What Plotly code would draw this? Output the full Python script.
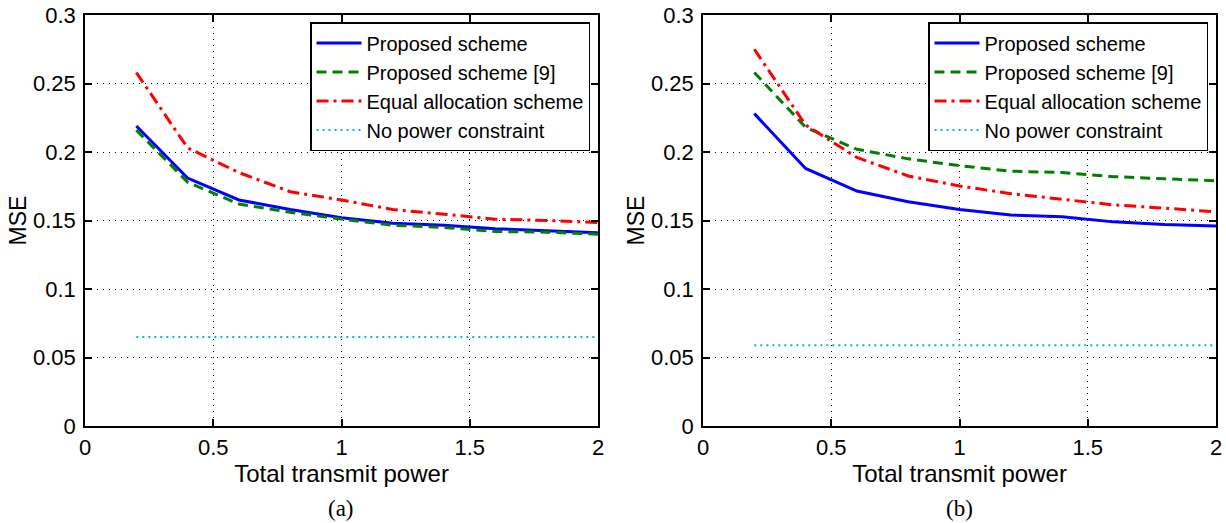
import plotly.graph_objects as go

power = [0.2, 0.4, 0.6, 0.8, 1.0, 1.2, 1.4, 1.6, 1.8, 2.0]

# Panel (a)
a_proposed = [0.219, 0.181, 0.165, 0.158, 0.152, 0.148, 0.1465, 0.144, 0.1425, 0.141]
a_proposed9 = [0.216, 0.178, 0.162, 0.156, 0.151, 0.1465, 0.145, 0.142, 0.1415, 0.140]
a_equal = [0.258, 0.203, 0.185, 0.171, 0.165, 0.158, 0.1546, 0.151, 0.150, 0.1485]
a_nopower = [0.065] * len(power)

# Panel (b)
b_proposed = [0.228, 0.188, 0.1715, 0.1637, 0.158, 0.154, 0.1527, 0.149, 0.147, 0.146]
b_proposed9 = [0.258, 0.218, 0.202, 0.195, 0.190, 0.186, 0.185, 0.182, 0.1805, 0.179]
b_equal = [0.275, 0.2197, 0.196, 0.1825, 0.1752, 0.1696, 0.1655, 0.1614, 0.159, 0.1563]
b_nopower = [0.059] * len(power)

names = ["Proposed scheme", "Proposed scheme [9]", "Equal allocation scheme", "No power constraint"]
colors = ["#0000ff", "#008000", "#ff0000", "#00bfbf"]
dashes = ["solid", "10px,6px", "12px,5px,3px,5px", "2px,4px"]
widths = [3, 3, 3, 2]

W, H = 1226, 523
FONT = "Liberation Sans, Arial, sans-serif"

fig = go.Figure()

panels = [
    ([a_proposed, a_proposed9, a_equal, a_nopower], "x", "y", "legend"),
    ([b_proposed, b_proposed9, b_equal, b_nopower], "x2", "y2", "legend2"),
]
for series, xa, ya, lg in panels:
    for s, nm, c, d, w in zip(series, names, colors, dashes, widths):
        fig.add_trace(go.Scatter(
            x=power, y=s, mode="lines", name=nm,
            line=dict(color=c, dash=d, width=w),
            xaxis=xa, yaxis=ya, legend=lg,
        ))

ydom = [(H - 426) / H, (H - 15) / H]
xdom1 = [85 / W, 598 / W]
xdom2 = [703 / W, 1216 / W]

def xaxis(dom, anchor):
    return dict(
        domain=dom, anchor=anchor, range=[0, 2], tickvals=[0, 0.5, 1, 1.5, 2],
        ticktext=["0", "0.5", "1", "1.5", "2"],
        showline=True, linecolor="black", linewidth=1.5, mirror="ticks",
        ticks="inside", ticklen=7, tickcolor="black", tickwidth=1.5,
        showgrid=True, gridcolor="black", griddash="1px,5px", gridwidth=1,
        zeroline=False, tickfont=dict(family=FONT, size=22, color="black"),
        ticklabelstandoff=1,
        title=dict(text="Total transmit power", standoff=1,
                   font=dict(family=FONT, size=24, color="black")),
    )

def yaxis(anchor):
    return dict(
        domain=ydom, anchor=anchor, range=[0, 0.3],
        tickvals=[0, 0.05, 0.1, 0.15, 0.2, 0.25, 0.3],
        ticktext=["0", "0.05", "0.1", "0.15", "0.2", "0.25", "0.3"],
        showline=True, linecolor="black", linewidth=1.5, mirror="ticks",
        ticks="inside", ticklen=7, tickcolor="black", tickwidth=1.5,
        showgrid=True, gridcolor="black", griddash="1px,5px", gridwidth=1,
        zeroline=False, tickfont=dict(family=FONT, size=22, color="black"),
        ticklabelstandoff=3,
        title=dict(text="MSE", standoff=0,
                   font=dict(family=FONT, size=23, color="black")),
    )

def legend(xr):
    return dict(
        x=xr, y=(H - 22) / H, xanchor="right", yanchor="top",
        bgcolor="white", bordercolor="black", borderwidth=1.5,
        font=dict(family=FONT, size=20, color="black"),
        itemwidth=45, tracegroupgap=0,
    )

fig.update_layout(
    width=W, height=H, autosize=False,
    margin=dict(l=0, r=0, t=0, b=0, autoexpand=False),
    paper_bgcolor="white", plot_bgcolor="white",
    xaxis=xaxis(xdom1, "y"), yaxis=yaxis("x"),
    xaxis2=xaxis(xdom2, "y2"), yaxis2=yaxis("x2"),
    legend=legend(590 / W), legend2=legend(1208 / W),
    showlegend=True,
    annotations=[
        dict(text="(a)", x=341 / W, y=(H - 508) / H, xref="paper", yref="paper",
             xanchor="center", yanchor="middle", showarrow=False,
             font=dict(family="Liberation Serif, Times New Roman, serif", size=23, color="black")),
        dict(text="(b)", x=959 / W, y=(H - 508) / H, xref="paper", yref="paper",
             xanchor="center", yanchor="middle", showarrow=False,
             font=dict(family="Liberation Serif, Times New Roman, serif", size=23, color="black")),
    ],
)

fig.write_html("out.html", config={"displayModeBar": False})
